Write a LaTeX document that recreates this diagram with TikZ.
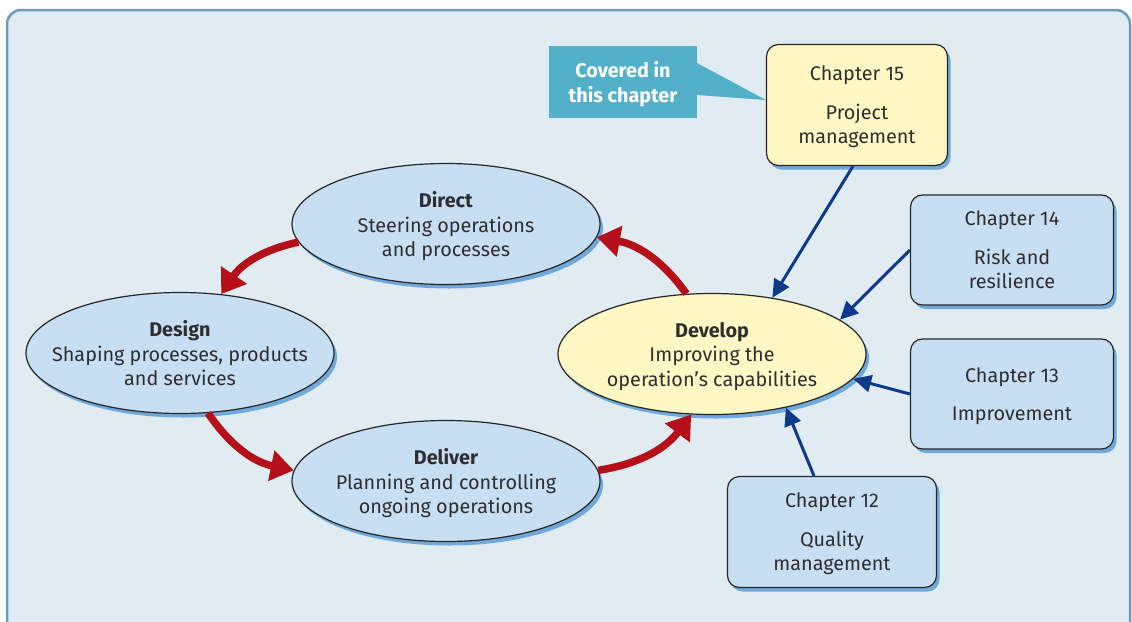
\documentclass[tikz,border=0pt]{standalone}
\usepackage{fontspec}
\setmainfont{Fira Sans}
\usetikzlibrary{arrows.meta,shapes.geometric,shadows}
\definecolor{pbg}{HTML}{E0EBF2}
\definecolor{pframe}{HTML}{6A9FBA}
\definecolor{pblue}{HTML}{C8DFF3}
\definecolor{pshadow}{HTML}{6FA8DC}
\definecolor{pyellow}{HTML}{FFF8C4}
\definecolor{pred}{HTML}{B50F1A}
\definecolor{pnavy}{HTML}{0B3A8A}
\definecolor{pteal}{HTML}{52B0C8}
\definecolor{ptext}{HTML}{2E2E2E}

\begin{document}
\begin{tikzpicture}[
  x=1pt,y=-1pt,
  shade/.style={drop shadow={shadow xshift=3pt,shadow yshift=-4pt,fill=pshadow,opacity=1}},
  stage/.style={ellipse,draw=black!85,line width=1.2pt,fill=pblue,inner sep=0pt,
    minimum width=308pt,minimum height=121pt,shade},
  stagetxt/.style={align=center,text=ptext,text depth=0pt,font=\fontsize{19.8}{24.5}\selectfont},
  chap/.style={rectangle,rounded corners=12pt,draw=black!85,line width=1.2pt,fill=pblue,
    align=center,text=ptext,text depth=0pt,font=\fontsize{19.8}{24.5}\selectfont,shade},
  redarr/.style={-{Triangle[width=30pt,length=23pt]},line width=7.5pt,pred,bend right=22},
  bluearr/.style={-{Triangle[width=17pt,length=18pt]},line width=3pt,pnavy}]
\useasboundingbox (0,0) rectangle (1132,621);
% ---------- background panel ----------
\draw[pframe,line width=2.5pt,fill=pbg,rounded corners=14pt] (7,10) rectangle (1130,640);

% ---------- the four stages ----------
\node[stage] (dir) at (446,224) {};
\node[stagetxt] (dir-t) at (dir) {\textbf{Direct}\\Steering operations\\and processes};
\node[stage] (dsg) at (180,353) {};
\node[stagetxt] (dsg-t) at (dsg) {\textbf{Design}\\Shaping processes, products\\and services};
\node[stage] (dlv) at (446,481) {};
\node[stagetxt] (dlv-t) at (dlv) {\textbf{Deliver}\\Planning and controlling\\ongoing operations};
\node[stage,fill=pyellow] (dev) at (712,354) {};
\node[stagetxt] (dev-t) at (dev) {\textbf{Develop}\\Improving the\\operation's capabilities};

% the cycle
\draw[redarr] (dir.187) to (dsg.55);
\draw[redarr] (dsg.-65) to (dlv.176);
\draw[redarr] (dlv.4) to (dev.-109);
\draw[redarr] (dev.113) to (dir.-5);

% ---------- chapter boxes ----------
\node[chap,fill=pyellow,minimum width=181pt,minimum height=121pt] (c15) at (857,105)
  {Chapter 15\\[14pt]Project\\management};
\node[chap,minimum width=203pt,minimum height=110pt] (c14) at (1012,250)
  {Chapter 14\\[14pt]Risk and\\resilience};
\node[chap,minimum width=203pt,minimum height=110pt] (c13) at (1012,394)
  {Chapter 13\\[14pt]Improvement};
\node[chap,minimum width=209pt,minimum height=111pt] (c12) at (832,532)
  {Chapter 12\\[14pt]Quality\\management};
\draw[bluearr] (c15.south) ++(-4,0) -- (dev.43);
\draw[bluearr] (c14.west) -- (dev.15);
\draw[bluearr] (c13.west) -- (dev.-10);
\draw[bluearr] (c12.north) ++(-18,0) -- (dev.-36);

% ---------- callout ----------
\fill[pteal] (697,63) -- (c15.west |- 0,100) -- (697,95) -- cycle;
\node[fill=pteal,minimum width=148pt,minimum height=72pt,align=center,text=white,text depth=0pt,
  font=\fontsize{19.8}{24.5}\selectfont\bfseries] (cov) at (623,82) {Covered in\\this chapter};
\end{tikzpicture}
\end{document}
